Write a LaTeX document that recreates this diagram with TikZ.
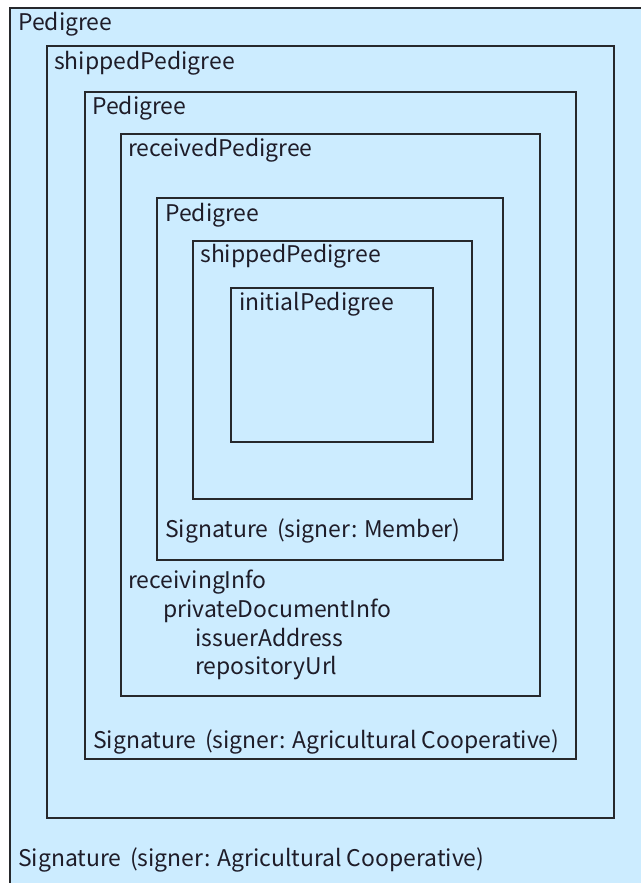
\documentclass[tikz,border=0pt]{standalone}
\usepackage{fontspec}
\setmainfont{Noto Sans CJK KR}
% signature line: a slightly wider gap after the word "Signature"
\newcommand{\siglabel}[1]{Signature\hspace{2.5pt} (signer: #1)}
\begin{document}
\begin{tikzpicture}[x=0.75pt,y=-0.75pt,
  frame/.style={draw=framegray,line width=1.4pt},
  lbl/.style={anchor=base west,inner sep=0pt,text=labelink,font=\fontsize{17.2pt}{20pt}\selectfont}]
\definecolor{paneblue}{RGB}{204,236,255}
\definecolor{framegray}{RGB}{38,40,44}
\definecolor{labelink}{RGB}{30,28,40}
\useasboundingbox (0,0) rectangle (641,883);
\clip (0,0) rectangle (641,883);
\fill[white] (0,0) rectangle (641,883);
% outermost Pedigree (runs past the right and bottom edges)
\draw[frame,fill=paneblue] (10,8) rectangle (660,900);
% nested envelopes
\draw[frame] (47,46) rectangle (614,818);
\draw[frame] (85,92) rectangle (576,759);
\draw[frame] (121,134) rectangle (540,696);
\draw[frame] (157,198) rectangle (503,560);
\draw[frame] (193,241) rectangle (472,499);
\draw[frame] (231,288) rectangle (433,442);
% labels
\node[lbl] (p1) at (18,30) {Pedigree};
\node[lbl] (s1) at (54,69) {shippedPedigree};
\node[lbl] (p2) at (92,114) {Pedigree};
\node[lbl] (r1) at (128,156) {receivedPedigree};
\node[lbl] (p3) at (165,221) {Pedigree};
\node[lbl] (s2) at (200,262) {shippedPedigree};
\node[lbl] (i1) at (239,310) {initialPedigree};
\node[lbl] (sigm) at (165,537) {\siglabel{Member}};
\node[lbl] (ri) at (128,588) {receivingInfo};
\node[lbl] (pdi) at (163,617) {privateDocumentInfo};
\node[lbl] (ia) at (195,646) {issuerAddress};
\node[lbl] (ru) at (195,674) {repositoryUrl};
\node[lbl] (sigc1) at (93,748) {\siglabel{Agricultural Cooperative}};
\node[lbl] (sigc2) at (18,866) {\siglabel{Agricultural Cooperative}};
\end{tikzpicture}
\end{document}
